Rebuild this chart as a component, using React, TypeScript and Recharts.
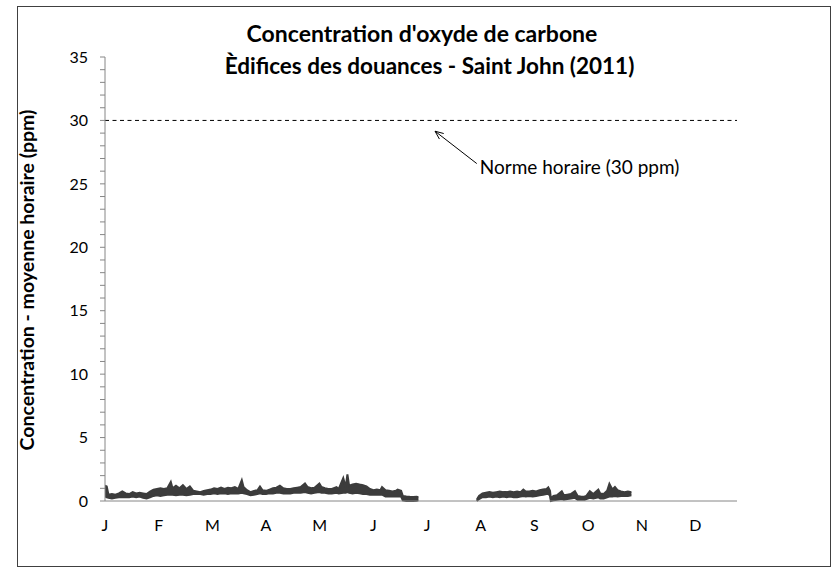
import React from 'react';
import { ComposedChart, Area, XAxis, YAxis, ReferenceLine } from 'recharts';

// day of year (2011) for each reading, with a null row for the July gap
const days = [
    0, 1, 2, 4, 6, 8, 10, 12, 14, 16, 18, 20, 22, 24, 26, 28, 30, 32, 34, 36, 38, 39, 41, 43, 45, 47, 49,
    51, 53, 55, 57, 59, 61, 63, 65, 67, 69, 71, 73, 75, 77, 79, 80, 82, 84, 86, 88, 89.5, 91, 93, 95, 97, 99,
    101, 103, 105, 107, 109, 111, 113, 115.5, 117, 119, 121, 123.8, 125, 127, 129, 131, 133.7, 135, 137.6,
    139, 140, 141, 143, 145, 147, 149, 151, 153, 155, 157, 159, 160, 162, 164, 166, 168, 169, 171, 172, 174,
    176, 178, 180, 181,
    198,
    214.7, 216, 218, 220, 222, 224, 226, 228, 230, 232, 234, 236, 238, 240, 241.6, 243, 245, 247, 249, 251,
    253, 255, 256, 257, 257.5, 259, 261, 263.8, 265, 267, 269, 271.4, 273, 275, 277, 278, 280, 282, 284.9,
    286, 288, 290, 291.3, 293, 294.5, 296, 298, 300, 302, 304,
];

// lower edge of the hourly band (ppm)
const lowValues: (number | null)[] = [
    0.35, 0.3, 0.25, 0.2, 0.25, 0.3, 0.3, 0.3, 0.3, 0.35, 0.3, 0.35, 0.25, 0.2, 0.3, 0.4, 0.45, 0.4, 0.45, 0.5, 0.5, 0.5, 0.45, 0.5, 0.5, 0.45, 0.5,
    0.55, 0.55, 0.55, 0.5, 0.55, 0.55, 0.6, 0.55, 0.6, 0.6, 0.55, 0.6, 0.6, 0.6, 0.65, 0.6, 0.55, 0.45, 0.5, 0.55, 0.6, 0.55, 0.55, 0.6, 0.6, 0.65,
    0.65, 0.6, 0.6, 0.6, 0.65, 0.65, 0.65, 0.7, 0.65, 0.6, 0.65, 0.7, 0.65, 0.65, 0.6, 0.6, 0.65, 0.6, 0.65,
    0.65, 0.7, 0.65, 0.6, 0.65, 0.6, 0.55, 0.55, 0.5, 0.5, 0.5, 0.5, 0.5, 0.35, 0.35, 0.35, 0.35, 0.35, 0.35, 0.05, 0,
    0.02, 0, 0.02, 0.05,
    null,
    0, 0.15, 0.3, 0.3, 0.35, 0.3, 0.35, 0.3, 0.35, 0.3, 0.35, 0.3, 0.3, 0.35, 0.4, 0.35, 0.4, 0.35, 0.4, 0.45,
    0.5, 0.55, 0.6, 0.4, 0, 0.05, 0.1, 0.15, 0.1, 0.15, 0.2, 0.25, 0.1, 0.1, 0.1, 0.15, 0.25, 0.2, 0.3,
    0.2, 0.2, 0.3, 0.35, 0.35, 0.4, 0.35, 0.4, 0.4, 0.4, 0.45,
];

// upper edge of the hourly band (ppm)
const highValues: (number | null)[] = [
    1.2, 1.15, 0.5, 0.55, 0.5, 0.6, 0.75, 0.6, 0.55, 0.7, 0.6, 0.65, 0.6, 0.55, 0.75, 0.9, 0.95, 1.0, 0.95, 1.0, 1.5, 1.0, 1.2, 1.0, 1.25, 0.95, 1.15,
    0.8, 0.75, 0.7, 0.8, 0.85, 0.9, 1.0, 0.95, 1.05, 0.95, 1.05, 1.0, 1.1, 0.95, 1.63, 1.1, 0.85, 0.7, 0.8, 0.85, 1.14, 0.85, 0.8, 0.9, 1.0, 1.05,
    1.2, 1.0, 0.95, 0.95, 1.0, 1.05, 1.1, 1.38, 1.1, 1.0, 1.05, 1.38, 1.1, 1.0, 0.95, 0.95, 1.1, 0.95, 1.8,
    1.1, 2.09, 1.2, 1.3, 1.36, 1.3, 1.25, 1.15, 0.95, 0.85, 0.9, 0.85, 1.1, 0.85, 0.8, 0.75, 0.8, 0.9, 0.8, 0.4, 0.35,
    0.33, 0.32, 0.33, 0.3,
    null,
    0.1, 0.4, 0.6, 0.65, 0.7, 0.65, 0.7, 0.75, 0.7, 0.7, 0.75, 0.7, 0.75, 0.7, 0.9, 0.75, 0.75, 0.8, 0.75, 0.85,
    0.9, 0.95, 1.08, 0.8, 0.2, 0.4, 0.45, 0.77, 0.45, 0.5, 0.55, 0.77, 0.4, 0.33, 0.35, 0.4, 0.77, 0.55, 0.9,
    0.6, 0.55, 0.8, 1.35, 0.9, 1.1, 0.85, 0.75, 0.7, 0.75, 0.7,
];

const monthTicks = [0, 31, 62, 93, 124, 155, 186, 217, 248, 279, 310, 341];
const monthLabels = ['J', 'F', 'M', 'A', 'M', 'J', 'J', 'A', 'S', 'O', 'N', 'D'];
const yTicks = Array.from({ length: 36 }, (_, i) => i);

const hourlyNorm = 30;
const normLabel = 'Norme horaire (30 ppm)';
// annotation arrow: from label end (tail) to the norm line (head)
const arrowTail = { x: 214.7, y: 26.6 };
const arrowHead = { x: 190.6, y: 29.15 };

const FONT = 'Lato, "Open Sans", sans-serif';

const data = days.map((day, i) => ({
    day,
    band: lowValues[i] == null ? null : [lowValues[i], highValues[i]],
}));

const NormArrow = (props: any) => {
    const { x1, y1, x2, y2 } = props;
    const ang = Math.atan2(y1 - y2, x1 - x2);
    const len = 9;
    const spread = 0.4;
    const ax = x2 + len * Math.cos(ang - spread);
    const ay = y2 + len * Math.sin(ang - spread);
    const bx = x2 + len * Math.cos(ang + spread);
    const by = y2 + len * Math.sin(ang + spread);
    return (
        <g>
            <line x1={x1} y1={y1} x2={x2} y2={y2} stroke="#000" strokeWidth={1} />
            <polyline points={`${ax},${ay} ${x2},${y2} ${bx},${by}`} fill="none" stroke="#000" strokeWidth={1} />
            <text x={x1 + 3} y={y1 + 10} fontSize={19} fontFamily={FONT} fill="#000">
                {normLabel}
            </text>
        </g>
    );
};

const App = () => {
    return (
        <div style={{ position: 'absolute', left: 0, top: 0, width: 832, height: 568, background: '#fff', fontFamily: FONT }}>
            <div
                style={{
                    position: 'absolute', left: 17, top: 6, width: 814, height: 561,
                    border: '1px solid #404040', boxSizing: 'border-box',
                }}
            />
            <div style={{ position: 'absolute', left: 0, width: 844, top: 19, textAlign: 'center', fontSize: 23, fontWeight: 700, lineHeight: '28px' }}>
                Concentration d'oxyde de carbone
            </div>
            <div style={{ position: 'absolute', left: 0, width: 859, top: 52, textAlign: 'center', fontSize: 22.5, fontWeight: 700, lineHeight: '28px' }}>
                Èdifices des douances - Saint John (2011)
            </div>
            <div style={{ position: 'absolute', left: 27, top: 280, width: 0, height: 0 }}>
                <div
                    style={{
                        position: 'absolute', left: -200, top: -12, width: 400, textAlign: 'center',
                        transform: 'rotate(-90deg)', fontSize: 19.5, fontWeight: 700, lineHeight: '24px', whiteSpace: 'nowrap',
                    }}
                >
                    Concentration - moyenne horaire (ppm)
                </div>
            </div>
            <ComposedChart
                width={832}
                height={568}
                data={data}
                margin={{ top: 57, right: 95, bottom: 36, left: 45 }}
                style={{ position: 'absolute', left: 0, top: 0 }}
            >
                <XAxis
                    type="number"
                    dataKey="day"
                    domain={[0, 365]}
                    ticks={monthTicks}
                    interval={0}
                    tickFormatter={(v: number) => monthLabels[monthTicks.indexOf(v)] ?? ''}
                    tickLine={false}
                    tickSize={0}
                    tickMargin={19}
                    height={31}
                    axisLine={{ stroke: '#868686' }}
                    tick={{ fill: '#000', fontSize: 16, fontFamily: FONT }}
                    allowDataOverflow
                />
                <YAxis
                    type="number"
                    domain={[0, 35]}
                    ticks={yTicks}
                    interval={0}
                    width={60}
                    tickSize={5}
                    tickMargin={12}
                    tickFormatter={(v: number) => (v % 5 === 0 ? String(v) : '')}
                    axisLine={{ stroke: '#868686' }}
                    tickLine={{ stroke: '#868686' }}
                    tick={{ fill: '#000', fontSize: 16, fontFamily: FONT }}
                />
                <ReferenceLine y={hourlyNorm} stroke="#000" strokeWidth={1} strokeDasharray="4 3.5" />
                <ReferenceLine segment={[arrowTail, arrowHead]} shape={NormArrow} />
                <Area
                    type="linear"
                    dataKey="band"
                    stroke="#3c3c3c"
                    strokeWidth={2}
                    fill="#3c3c3c"
                    fillOpacity={1}
                    connectNulls={false}
                    dot={false}
                    activeDot={false}
                    isAnimationActive={false}
                />
            </ComposedChart>
        </div>
    );
};

export default App;
